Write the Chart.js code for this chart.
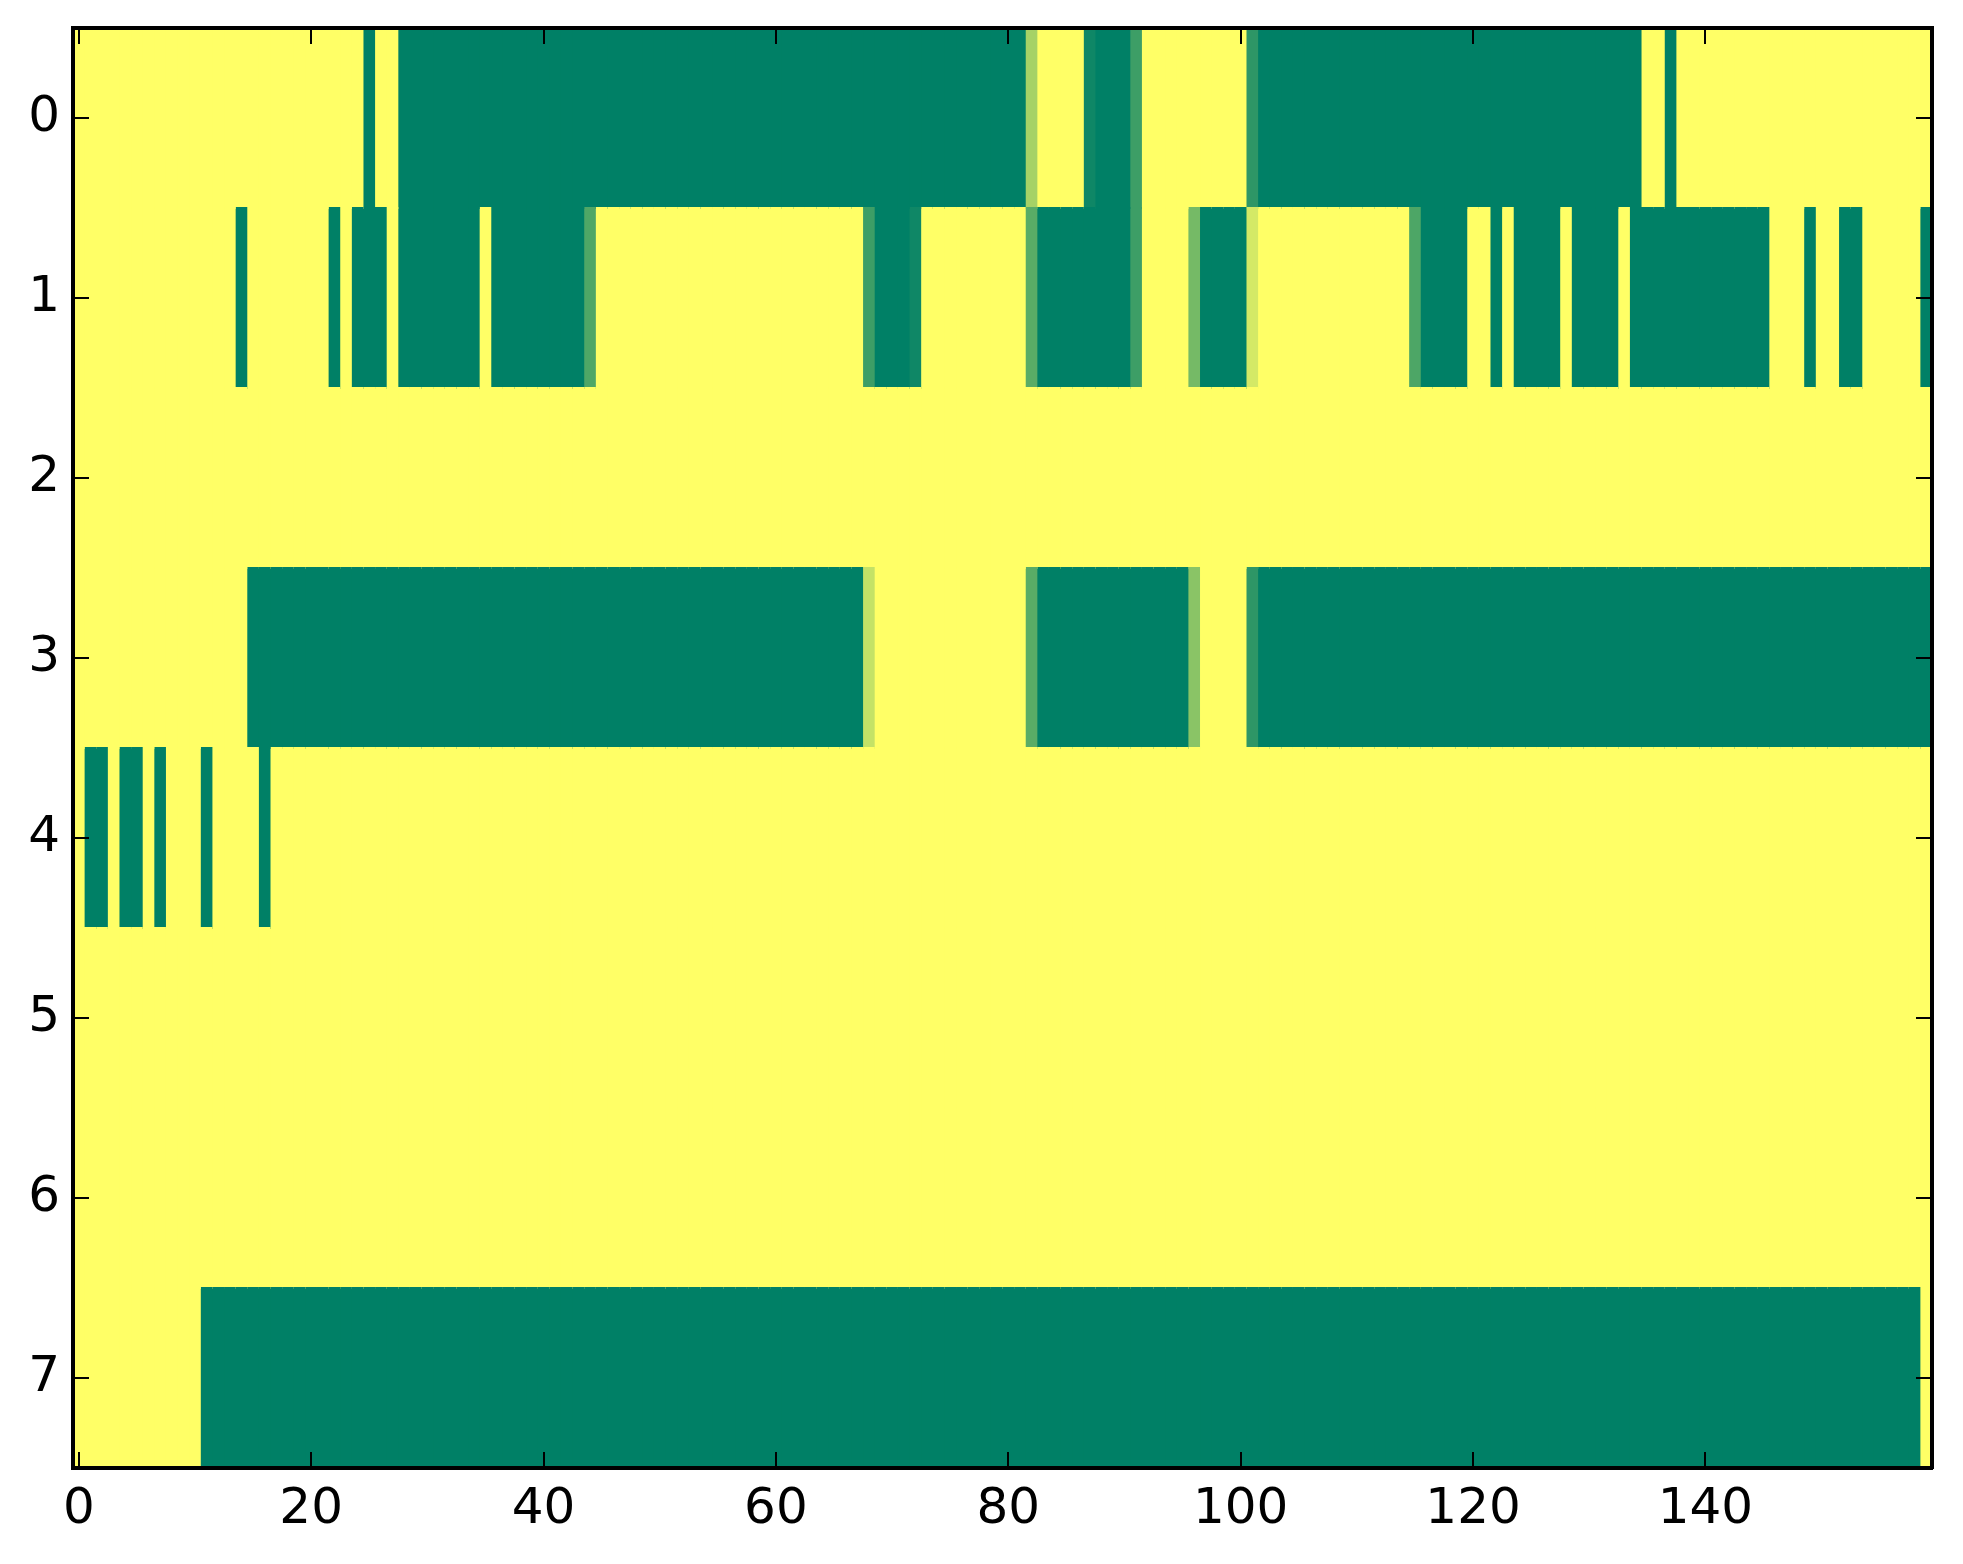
<!DOCTYPE html>
<html>
<head>
<meta charset="utf-8">
<script src="https://cdn.jsdelivr.net/npm/chart.js@4.4.1/dist/chart.umd.min.js"></script>
<style>
  html, body { margin: 0; padding: 0; background: #fff; }
  #box { width: 1963px; height: 1564px; }
</style>
</head>
<body>
<div id="box"><canvas id="heat"></canvas></div>
<script>
// cell values per row, 0 = green, 1 = yellow (160 columns each)
const row0 = [
  1,1,1,1,1,1,1,1,1,1,1,1,1,1,1,1,1,1,1,1,
  1,1,1,1,1,0,1,1,0,0,0,0,0,0,0,0,0,0,0,0,
  0,0,0,0,0,0,0,0,0,0,0,0,0,0,0,0,0,0,0,0,
  0,0,0,0,0,0,0,0,0,0,0,0,0,0,0,0,0,0,0,0,
  0,0,.65,1,1,1,1,.06,0,0,0,.24,1,1,1,1,1,1,1,1,
  1,.18,0,0,0,0,0,0,0,0,0,0,0,0,0,0,0,0,0,0,
  0,0,0,0,0,0,0,0,0,0,0,0,0,0,0,1,1,0,1,1,
  1,1,1,1,1,1,1,1,1,1,1,1,1,1,1,1,1,1,1,1
];
const row1 = [
  1,1,1,1,1,1,1,1,1,1,1,1,1,1,0,1,1,1,1,1,
  1,1,0,1,0,0,0,1,0,0,0,0,0,0,0,1,0,0,0,0,
  0,0,0,0,.31,1,1,1,1,1,1,1,1,1,1,1,1,1,1,1,
  1,1,1,1,1,1,1,1,.24,0,0,0,.06,1,1,1,1,1,1,1,
  1,1,.35,0,0,0,0,0,0,0,0,.24,1,1,1,1,.46,0,0,0,
  0,.83,1,1,1,1,1,1,1,1,1,1,1,1,1,.3,0,0,0,0,
  1,1,0,1,0,0,0,0,1,0,0,0,0,1,0,0,0,0,0,0,
  0,0,0,0,0,0,1,1,1,0,1,1,0,0,1,1,1,1,1,0
];
const row2 = [
  1,1,1,1,1,1,1,1,1,1,1,1,1,1,1,1,1,1,1,1,
  1,1,1,1,1,1,1,1,1,1,1,1,1,1,1,1,1,1,1,1,
  1,1,1,1,1,1,1,1,1,1,1,1,1,1,1,1,1,1,1,1,
  1,1,1,1,1,1,1,1,1,1,1,1,1,1,1,1,1,1,1,1,
  1,1,1,1,1,1,1,1,1,1,1,1,1,1,1,1,1,1,1,1,
  1,1,1,1,1,1,1,1,1,1,1,1,1,1,1,1,1,1,1,1,
  1,1,1,1,1,1,1,1,1,1,1,1,1,1,1,1,1,1,1,1,
  1,1,1,1,1,1,1,1,1,1,1,1,1,1,1,1,1,1,1,1
];
const row3 = [
  1,1,1,1,1,1,1,1,1,1,1,1,1,1,1,0,0,0,0,0,
  0,0,0,0,0,0,0,0,0,0,0,0,0,0,0,0,0,0,0,0,
  0,0,0,0,0,0,0,0,0,0,0,0,0,0,0,0,0,0,0,0,
  0,0,0,0,0,0,0,0,.77,1,1,1,1,1,1,1,1,1,1,1,
  1,1,.35,0,0,0,0,0,0,0,0,0,0,0,0,0,.54,1,1,1,
  1,.18,0,0,0,0,0,0,0,0,0,0,0,0,0,0,0,0,0,0,
  0,0,0,0,0,0,0,0,0,0,0,0,0,0,0,0,0,0,0,0,
  0,0,0,0,0,0,0,0,0,0,0,0,0,0,0,0,0,0,0,0
];
const row4 = [
  1,0,0,1,0,0,1,0,1,1,1,0,1,1,1,1,0,1,1,1,
  1,1,1,1,1,1,1,1,1,1,1,1,1,1,1,1,1,1,1,1,
  1,1,1,1,1,1,1,1,1,1,1,1,1,1,1,1,1,1,1,1,
  1,1,1,1,1,1,1,1,1,1,1,1,1,1,1,1,1,1,1,1,
  1,1,1,1,1,1,1,1,1,1,1,1,1,1,1,1,1,1,1,1,
  1,1,1,1,1,1,1,1,1,1,1,1,1,1,1,1,1,1,1,1,
  1,1,1,1,1,1,1,1,1,1,1,1,1,1,1,1,1,1,1,1,
  1,1,1,1,1,1,1,1,1,1,1,1,1,1,1,1,1,1,1,1
];
const row5 = [
  1,1,1,1,1,1,1,1,1,1,1,1,1,1,1,1,1,1,1,1,
  1,1,1,1,1,1,1,1,1,1,1,1,1,1,1,1,1,1,1,1,
  1,1,1,1,1,1,1,1,1,1,1,1,1,1,1,1,1,1,1,1,
  1,1,1,1,1,1,1,1,1,1,1,1,1,1,1,1,1,1,1,1,
  1,1,1,1,1,1,1,1,1,1,1,1,1,1,1,1,1,1,1,1,
  1,1,1,1,1,1,1,1,1,1,1,1,1,1,1,1,1,1,1,1,
  1,1,1,1,1,1,1,1,1,1,1,1,1,1,1,1,1,1,1,1,
  1,1,1,1,1,1,1,1,1,1,1,1,1,1,1,1,1,1,1,1
];
const row6 = [
  1,1,1,1,1,1,1,1,1,1,1,1,1,1,1,1,1,1,1,1,
  1,1,1,1,1,1,1,1,1,1,1,1,1,1,1,1,1,1,1,1,
  1,1,1,1,1,1,1,1,1,1,1,1,1,1,1,1,1,1,1,1,
  1,1,1,1,1,1,1,1,1,1,1,1,1,1,1,1,1,1,1,1,
  1,1,1,1,1,1,1,1,1,1,1,1,1,1,1,1,1,1,1,1,
  1,1,1,1,1,1,1,1,1,1,1,1,1,1,1,1,1,1,1,1,
  1,1,1,1,1,1,1,1,1,1,1,1,1,1,1,1,1,1,1,1,
  1,1,1,1,1,1,1,1,1,1,1,1,1,1,1,1,1,1,1,1
];
const row7 = [
  1,1,1,1,1,1,1,1,1,1,1,0,0,0,0,0,0,0,0,0,
  0,0,0,0,0,0,0,0,0,0,0,0,0,0,0,0,0,0,0,0,
  0,0,0,0,0,0,0,0,0,0,0,0,0,0,0,0,0,0,0,0,
  0,0,0,0,0,0,0,0,0,0,0,0,0,0,0,0,0,0,0,0,
  0,0,0,0,0,0,0,0,0,0,0,0,0,0,0,0,0,0,0,0,
  0,0,0,0,0,0,0,0,0,0,0,0,0,0,0,0,0,0,0,0,
  0,0,0,0,0,0,0,0,0,0,0,0,0,0,0,0,0,0,0,0,
  0,0,0,0,0,0,0,0,0,0,0,0,0,0,0,0,0,0,0,1
];
const rows = [row0, row1, row2, row3, row4, row5, row6, row7];
const xTickValues = [0, 20, 40, 60, 80, 100, 120, 140];
const yTickValues = [0, 1, 2, 3, 4, 5, 6, 7];

const nCols = row0.length;

// matplotlib "summer" colormap: 0 -> (0, .5, .4), 1 -> (1, 1, .4)
const summer = v => `rgb(${Math.round(255 * v)}, ${Math.round(255 * (0.5 + 0.5 * v))}, 102)`;

// one dataset per column, each bar floats from the left edge to the column's right edge.
// dataset 0 is painted last, so every column only shows its own cell and no seams appear.
const datasets = [];
for (let c = 0; c < nCols; c++) {
  datasets.push({
    data: rows.map((row, r) => ({ x: [-0.5, c + 0.5], y: r })),
    backgroundColor: rows.map(row => summer(row[c])),
    grouped: false,
    barPercentage: 1.01,
    categoryPercentage: 1,
    borderWidth: 0
  });
}

const axisFont = { family: 'DejaVu Sans', size: 50 };
// z: 1 puts frame and tick marks above the cells
const frame = { display: true, color: '#000', width: 4, z: 1 };
const tickGrid = { offset: false, drawOnChartArea: false, drawTicks: true, tickLength: -16, color: '#000', lineWidth: 2, z: 1 };
const setTicks = values => scale => { scale.ticks = values.map(v => ({ value: v })); };
// fixed box sizes, and no extra room reserved for half labels
const fixSize = (w, h) => s => {
  if (w !== null) s.width = w;
  if (h !== null) s.height = h;
  s.paddingTop = 0; s.paddingBottom = 0; s.paddingLeft = 0; s.paddingRight = 0;
};

new Chart(document.getElementById('heat'), {
  type: 'bar',
  data: { datasets },
  options: {
    indexAxis: 'y',
    responsive: true,
    maintainAspectRatio: false,
    devicePixelRatio: 1,
    animation: false,
    layout: { padding: 0 },
    plugins: { legend: { display: false }, tooltip: { enabled: false } },
    scales: {
      x: {
        type: 'linear', position: 'bottom', min: -0.5, max: nCols - 0.5, offset: false,
        afterBuildTicks: setTicks(xTickValues),
        ticks: { font: axisFont, color: '#000', padding: 28, maxRotation: 0, autoSkip: false },
        grid: tickGrid, border: frame,
        afterFit: fixSize(null, 96)
      },
      x2: {
        type: 'linear', position: 'top', min: -0.5, max: nCols - 0.5, offset: false,
        afterBuildTicks: setTicks(xTickValues),
        ticks: { display: false },
        grid: tickGrid, border: frame,
        afterFit: fixSize(null, 28)
      },
      y: {
        type: 'linear', position: 'left', reverse: true, min: -0.5, max: 7.5, offset: false,
        afterBuildTicks: setTicks(yTickValues),
        ticks: { font: axisFont, color: '#000', padding: 29, autoSkip: false },
        grid: tickGrid, border: frame,
        afterFit: fixSize(73, null)
      },
      y2: {
        type: 'linear', position: 'right', reverse: true, min: -0.5, max: 7.5, offset: false,
        afterBuildTicks: setTicks(yTickValues),
        ticks: { display: false },
        grid: tickGrid, border: frame,
        afterFit: fixSize(31, null)
      }
    }
  }
});
</script>
</body>
</html>
